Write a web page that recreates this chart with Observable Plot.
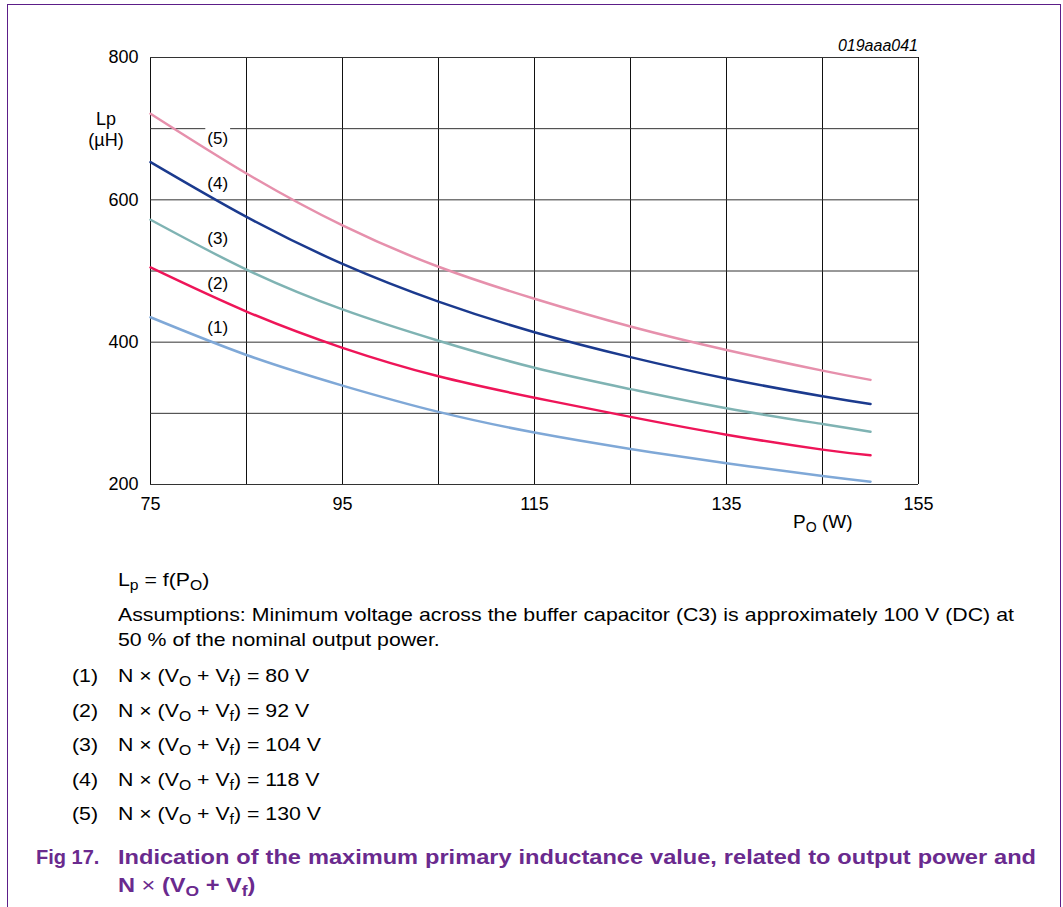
<!DOCTYPE html>
<html><head><meta charset="utf-8">
<script src="https://cdn.jsdelivr.net/npm/d3@7"></script>
<script src="https://cdn.jsdelivr.net/npm/@observablehq/plot@0.6"></script>
<style>
html,body{margin:0;padding:0;background:#fff;}
body{width:1063px;height:907px;position:relative;overflow:hidden;font-family:"Liberation Sans",Arial,Helvetica,sans-serif;color:#000;}
#chart{position:absolute;left:0;top:0;}
.t{position:absolute;white-space:nowrap;font-size:18px;line-height:18px;}
.b{position:absolute;white-space:nowrap;font-size:19px;line-height:19px;transform:scaleX(1.12);transform-origin:0 0;}
.s{font-size:0.74em;position:relative;top:0.3em;}
.ttl{position:absolute;white-space:nowrap;font-size:20px;line-height:20px;font-weight:bold;color:#6a2a8e;}
.ttlw{transform:scaleX(1.18);transform-origin:0 0;}
#border{position:absolute;left:7px;top:4px;width:1054px;height:1000px;box-sizing:border-box;border-top:1.5px solid #5c1e88;border-left:1.5px solid #5c1e88;border-right:1.5px solid #5c1e88;pointer-events:none;}
</style>
</head><body>
<div id="chart"></div>
<div class="t" style="left:76px;width:60px;text-align:center;top:110px;">Lp</div>
<div class="t" style="left:76px;width:60px;text-align:center;top:131px;">(µH)</div>
<div class="t" style="right:145px;top:37.5px;font-size:16px;line-height:16px;font-style:italic;">019aaa041</div>
<div class="t" style="left:793px;top:512px;font-size:19px;line-height:19px;">P<span class="s">O</span> (W)</div>

<div class="b" style="left:118px;top:570px;">L<span class="s">p</span> = f(P<span class="s">O</span>)</div>
<div class="b" style="left:118px;top:605px;width:800px;text-align:justify;text-align-last:justify;white-space:normal;">Assumptions: Minimum voltage across the buffer capacitor (C3) is approximately 100 V (DC) at</div>
<div class="b" style="left:118px;top:630px;">50 % of the nominal output power.</div>
<div id="items"></div>
<div class="ttl" style="left:36px;top:847px;">Fig 17.</div>
<div class="ttl ttlw" style="left:118px;top:847px;width:778px;text-align:justify;text-align-last:justify;white-space:normal;">Indication of the maximum primary inductance value, related to output power and</div>
<div class="ttl ttlw" style="left:118px;top:875px;">N <span style="font-weight:normal">×</span> (V<span class="s">O</span> + V<span class="s">f</span>)</div>
<div id="border"></div>
<script>
// Data
const power = [75, 85, 95, 105, 115, 125, 135, 145, 150];          // P_O (W)
const lp1 = [435, 382, 339, 302, 273, 250, 230, 212, 204];          // N×(VO+Vf) = 80 V
const lp2 = [505, 443, 392, 352, 322, 295, 270, 249, 241];          // 92 V
const lp3 = [572, 502, 446, 402, 364, 334, 307, 285, 274];          // 104 V
const lp4 = [653, 576, 510, 457, 414, 379, 349, 324, 313];          // 118 V
const lp5 = [721, 637, 564, 506, 461, 422, 389, 360, 347];          // 130 V
const seriesNames = ["(1)", "(2)", "(3)", "(4)", "(5)"];
const seriesVoltages = ["80 V", "92 V", "104 V", "118 V", "130 V"];
const seriesColors = ["#7fa8d7", "#ee1558", "#7fb3b3", "#1b3a8e", "#e690ac"];
const labelPower = [82, 82, 82, 82, 82];
const labelLp = [421, 482, 546, 623, 686];
const xTicks = [75, 95, 115, 135, 155];
const yTicks = [200, 400, 600, 800];
const xGrid = d3.range(75, 156, 10);
const yGrid = d3.range(200, 801, 100);

const allLp = [lp1, lp2, lp3, lp4, lp5];
const rows = allLp.flatMap((arr, s) => arr.map((v, i) => ({series: seriesNames[s], power: power[i], lp: v})));
const labelRows = seriesNames.map((n, i) => ({name: n, power: labelPower[i], lp: labelLp[i]}));

const chart = Plot.plot({
  width: 1063, height: 540,
  marginLeft: 150, marginRight: 145, marginTop: 57, marginBottom: 56,
  style: {background: "transparent", fontFamily: "'Liberation Sans', Arial, sans-serif", fontSize: "18px", color: "#000"},
  x: {domain: [75, 155], ticks: xTicks, tickSize: 0, tickPadding: 13, label: null},
  y: {domain: [200, 800], ticks: yTicks, tickSize: 0, tickPadding: 12, label: null},
  color: {domain: seriesNames, range: seriesColors},
  marks: [
    Plot.gridX(xGrid, {stroke: "#111", strokeOpacity: 1, strokeWidth: 1}),
    Plot.gridY(yGrid, {stroke: "#333", strokeOpacity: 1, strokeWidth: 1}),
    Plot.dot(labelRows.filter(d => d.name === "(5)"), {x: "power", y: "lp", r: 14, symbol: "square", fill: "white", stroke: "none"}),
    Plot.text(labelRows, {x: "power", y: "lp", text: "name", fill: "#000", fontSize: 17}),
    Plot.line(rows, {x: "power", y: "lp", z: "series", stroke: "series", strokeWidth: 2.5, curve: "natural"})
  ]
});
document.getElementById("chart").appendChild(chart);

// legend items below the chart
const items = document.getElementById("items");
const baseTop = 666, step = 34.5;
seriesNames.forEach((n, i) => {
  const a = document.createElement("div");
  a.className = "b"; a.style.left = "72px"; a.style.top = (baseTop + i * step) + "px";
  a.textContent = n;
  items.appendChild(a);
  const b = document.createElement("div");
  b.className = "b"; b.style.left = "118px"; b.style.top = (baseTop + i * step) + "px";
  b.innerHTML = 'N × (V<span class="s">O</span> + V<span class="s">f</span>) = ' + seriesVoltages[i];
  items.appendChild(b);
});
</script>
</body></html>
